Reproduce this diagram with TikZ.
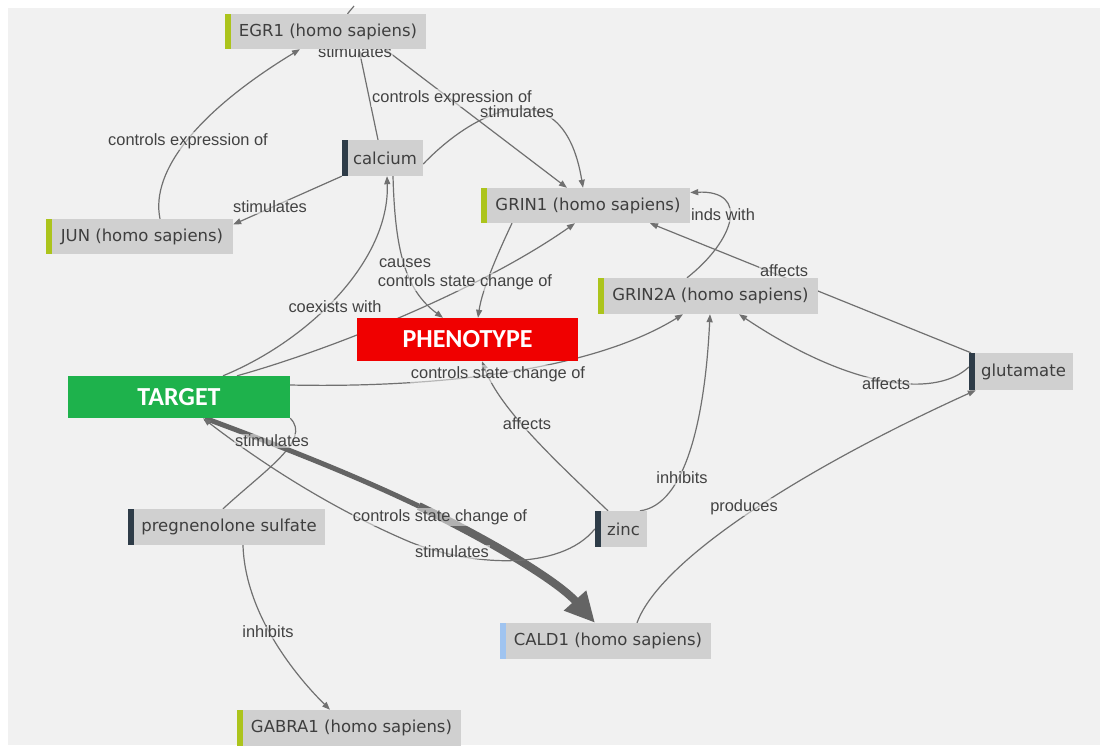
\documentclass[tikz,border=0pt]{standalone}
\usepackage{fontspec}
\usetikzlibrary{arrows.meta}
\newfontfamily\nodefont{DejaVu Sans}
\newfontfamily\lblfont{Liberation Sans}
\newfontfamily\bigfont{Carlito}
\definecolor{bggray}{RGB}{241,241,241}
\definecolor{boxgray}{RGB}{208,208,208}
\definecolor{nodetext}{RGB}{62,62,62}
\definecolor{lbltext}{RGB}{66,66,66}
\definecolor{edgegray}{RGB}{112,112,112}
\definecolor{thickgray}{RGB}{100,100,100}
\definecolor{barlime}{RGB}{172,196,28}
\definecolor{bardark}{RGB}{46,60,72}
\definecolor{barblue}{RGB}{160,196,240}
\definecolor{phenored}{RGB}{240,0,0}
\definecolor{targetgreen}{RGB}{30,178,76}
\pgfdeclarelayer{bg}
\pgfdeclarelayer{edges}
\pgfdeclarelayer{labels}
\pgfsetlayers{bg,edges,labels,main}
\tikzset{
  gene/.style={rectangle, fill=boxgray, text=nodetext,
    font=\nodefont\fontsize{16.5}{19}\selectfont, inner sep=0pt, minimum height=35pt,
    path picture={\fill[#1] (path picture bounding box.north west) rectangle ([xshift=6pt]path picture bounding box.south west);}},
  tagbox/.style={rectangle, fill=#1, text=white,
    font=\bigfont\bfseries\fontsize{26}{30}\selectfont, inner sep=0pt, minimum height=42pt},
  rel/.style={draw=edgegray, line width=1.2pt, -{Triangle[length=8pt,width=6pt]}},
  plainrel/.style={draw=edgegray, line width=1.2pt},
  lbl/.style={font=\lblfont\fontsize{16.4}{18}\selectfont, text=lbltext,
    fill=bggray, fill opacity=0.55, text opacity=1, inner sep=1pt},
}
\begin{document}
\begin{tikzpicture}[x=1pt,y=-1pt]
\useasboundingbox (0,0) rectangle (1100,745);
\begin{pgfonlayer}{bg}
\fill[bggray] (8,8) rectangle (1100,745);
\end{pgfonlayer}

% nodes
\node[gene=barlime, minimum width=201pt] (egr) at (325.5,31.5) {\hspace*{5pt}EGR1 (homo sapiens)};
\node[gene=bardark, minimum width=81pt, minimum height=36pt] (calcium) at (382.5,158) {\hspace*{5pt}calcium};
\node[gene=barlime, minimum width=187pt] (jun) at (139.5,236.5) {\hspace*{5pt}JUN (homo sapiens)};
\node[gene=barlime, minimum width=209pt] (grin1) at (585.5,205.5) {\hspace*{5pt}GRIN1 (homo sapiens)};
\node[gene=barlime, minimum width=220pt, minimum height=36pt] (grin2a) at (708,296) {\hspace*{5pt}GRIN2A (homo sapiens)};
\node[tagbox=phenored, minimum width=221pt, minimum height=43pt] (pheno) at (467.5,339.5) {PHENOTYPE};
\node[gene=bardark, minimum width=104pt, minimum height=37pt] (glut) at (1021,371.5) {\hspace*{5pt}glutamate};
\node[tagbox=targetgreen, minimum width=222pt] (target) at (179,397) {TARGET};
\node[gene=bardark, minimum width=197pt, minimum height=36pt] (preg) at (226.5,527) {\hspace*{5pt}pregnenolone sulfate};
\node[gene=bardark, minimum width=52pt, minimum height=36pt] (zinc) at (621,529) {\hspace*{5pt}zinc};
\node[gene=barblue, minimum width=211pt, minimum height=36pt] (cald1) at (605.5,641) {\hspace*{5pt}CALD1 (homo sapiens)};
\node[gene=barlime, minimum width=224pt, minimum height=36pt] (gabra) at (349,728) {\hspace*{5pt}GABRA1 (homo sapiens)};

\coordinate (stubtop) at (354,6);
\coordinate (thickmid) at (418.75,506.1);

\begin{pgfonlayer}{edges}
\draw[plainrel] (stubtop) -- ([xshift=22pt]egr.north);
% JUN -> EGR1
\draw[rel] ([xshift=20.5pt]jun.north) .. controls (150,170) and (200,110) .. ([xshift=-25.5pt]egr.south);
% calcium -> JUN
\draw[rel] (calcium.south west) -- ([yshift=12pt]jun.east);
% calcium -> EGR1
\draw[rel] ([xshift=-4.5pt]calcium.north) -- ([xshift=33.5pt]egr.south);
% EGR1 -> GRIN1
\draw[rel] ([xshift=59.5pt]egr.south) -- ([xshift=-18.5pt]grin1.north);
% calcium -> GRIN1
\draw[rel] ([yshift=-6pt]calcium.east) .. controls (480,105) and (564,71) .. ([xshift=-2.5pt]grin1.north);
% TARGET -> calcium
\draw[rel] ([xshift=44pt]target.north) .. controls (310,340) and (390,260) .. ([xshift=4.5pt]calcium.south);
% TARGET -> GRIN1
\draw[rel] ([xshift=58pt]target.north) .. controls (330,350) and (480,290) .. ([xshift=-10.5pt]grin1.south);
% calcium -> PHENOTYPE
\draw[rel] ([xshift=10.5pt]calcium.south) .. controls (395,250) and (405,290) .. ([xshift=-24.5pt]pheno.north);
% GRIN1 -> PHENOTYPE
\draw[rel] ([xshift=-73.5pt]grin1.south) .. controls (497,255) and (482,290) .. ([xshift=10.5pt]pheno.north);
% TARGET -> GRIN2A
\draw[rel] ([yshift=12pt]target.east) .. controls (430,388) and (590,372) .. ([xshift=-25pt]grin2a.south);
% zinc -> PHENOTYPE
\draw[rel] ([xshift=-13pt]zinc.north) .. controls (560,465) and (500,410) .. ([xshift=14.5pt]pheno.south);
% zinc -> GRIN2A
\draw[rel] ([xshift=19pt]zinc.north) .. controls (685,505) and (705,420) .. ([xshift=2pt]grin2a.south);
% glutamate -> GRIN2A
\draw[rel] ([yshift=4.5pt]glut.west) .. controls (940,395) and (860,395) .. ([xshift=31pt]grin2a.south);
% glutamate -> GRIN1
\draw[rel] ([xshift=-50pt]glut.north) -- ([xshift=64.5pt]grin1.south);
% GRIN2A -> GRIN1
\draw[rel] ([xshift=-21pt]grin2a.north) .. controls (735,240) and (750,190) .. ([yshift=13pt]grin1.east);
% CALD1 -> glutamate
\draw[rel] ([xshift=31.5pt]cald1.north) .. controls (660,560) and (800,470) .. ([xshift=7pt]glut.south west);
% pregnenolone sulfate -> GABRA1
\draw[rel] ([xshift=16.5pt]preg.south) .. controls (245,610) and (290,670) .. ([xshift=-19pt]gabra.north);
% pregnenolone sulfate -> TARGET
\draw[plainrel] ([xshift=-3.5pt]preg.north) .. controls (265,470) and (312,440) .. (target.south east);
% TARGET -> CALD1 (thick)
\draw[draw=thickgray, line width=5pt] ([xshift=26pt]target.south) .. controls (267.5,441.5) and (346.25,471.25) .. (thickmid);
\draw[draw=thickgray, line width=8pt, -{Triangle[length=30pt,width=28pt]}] (thickmid) .. controls (491.25,541) and (557.5,581) .. ([xshift=-10.5pt]cald1.north);
% zinc -> TARGET
\draw[rel] (zinc.west) .. controls (560,572) and (470,566) .. (410,542) .. controls (330,508) and (260,462) .. ([xshift=24pt]target.south);
\end{pgfonlayer}

\begin{pgfonlayer}{labels}
\node[lbl] (l1) at (355,52) {stimulates};
\node[lbl] (l2) at (452,98) {controls expression of};
\node[lbl] (l3) at (517,112) {stimulates};
\node[lbl] (l4) at (188,141) {controls expression of};
\node[lbl] (l5) at (270,207) {stimulates};
\node[lbl] (l6) at (723,215) {inds with};
\node[lbl] (l7) at (405,263) {causes};
\node[lbl] (l8) at (465,282) {controls state change of};
\node[lbl] (l9) at (784,271) {affects};
\node[lbl] (l10) at (335,307) {coexists with};
\node[lbl] (l11) at (498,374) {controls state change of};
\node[lbl] (l12) at (886,384) {affects};
\node[lbl] (l13) at (527,424) {affects};
\node[lbl] (l14) at (272,441) {stimulates};
\node[lbl] (l15) at (682,478) {inhibits};
\node[lbl] (l16) at (744,507) {produces};
\node[lbl] (l17) at (440,517) {controls state change of};
\node[lbl] (l18) at (452,552) {stimulates};
\node[lbl] (l19) at (268,632) {inhibits};
\end{pgfonlayer}
\end{tikzpicture}
\end{document}
